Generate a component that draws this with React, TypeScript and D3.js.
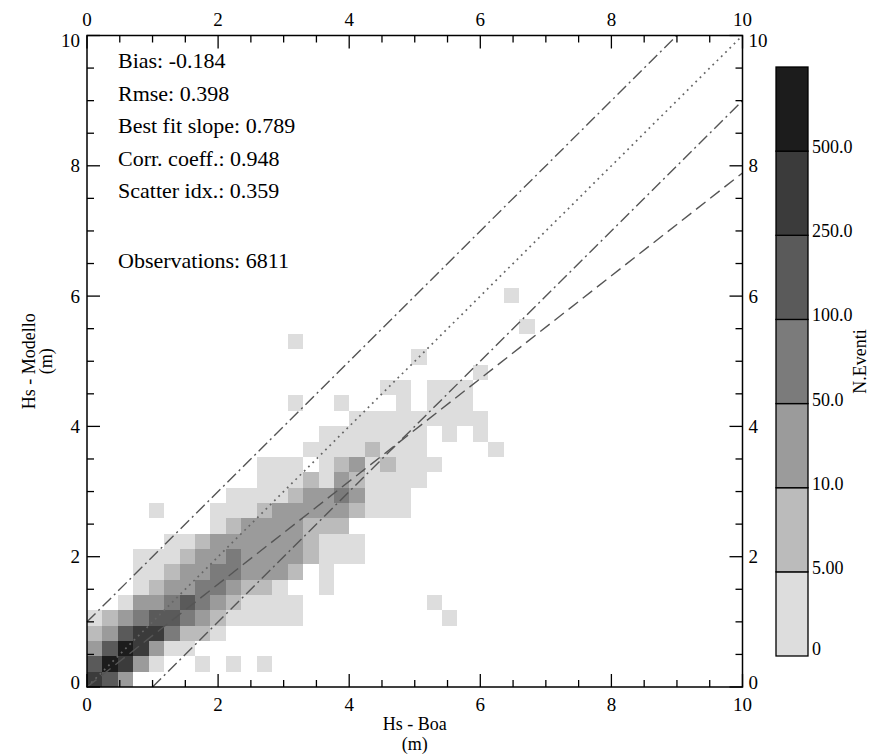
import React from 'react';
import * as d3 from 'd3';

// ---------- data ----------
const BIN_SIZE = 0.2355; // m, width/height of a histogram cell
// each row r of the 2D histogram: first column index and class codes ('.' = empty)
const ROW_START = [0, 0, 0, 0, 0, 2, 3, 3, 3, 5, 8, 4, 9, 11, 11, 14, 15, 17, 13, 19, 25, 21, 13, 28, 0, 27];
const ROW_LEVELS = [
  '653',
  '57631..1.1.1',
  '3576311',
  '235664221',
  '12345543211111.........1',
  '133454321111........1',
  '1233443221..1',
  '11233443332.1',
  '111233433332111',
  '1123333332111',
  '123333222',
  '1...1112333332111',
  '111123343111',
  '11121321111',
  '111.12312111',
  '11112111....1',
  '1111111.1.1',
  '111111111',
  '1..1...1.111',
  '11.111',
  '1',
  '1',
  '1',
  '1',
  '',
  '1',
];
const CLASS_COUNTS = [0, 2, 7, 25, 70, 160, 350, 700];
const COLOR_BREAKS = [5, 10, 50, 100, 250, 500];
const COLOR_FILLS = ['#dddddd', '#bbbbbb', '#9b9b9b', '#7b7b7b', '#5a5a5a', '#3b3b3b', '#1c1c1c'];
const CB_LABELS = ['0', '5.00', '10.0', '50.0', '100.0', '250.0', '500.0'];
const TICKS_MAJOR = [0, 2, 4, 6, 8, 10];
const TICKS_MINOR = d3.range(0, 10.01, 0.5).filter((v) => v % 2 !== 0);
const STAT_LABELS = [
  'Bias: -0.184',
  'Rmse: 0.398',
  'Best fit slope: 0.789',
  'Corr. coeff.: 0.948',
  'Scatter idx.: 0.359',
];
const OBS_LABEL = 'Observations: 6811';
const REF_LINES = [
  { x1: 0, y1: 1, x2: 9, y2: 10 },
  { x1: 0, y1: 0, x2: 10, y2: 10 },
  { x1: 1, y1: 0, x2: 10, y2: 9 },
  { x1: 0, y1: 0, x2: 10, y2: 7.89 },
];

const FONT = "'Liberation Serif', 'Times New Roman', serif";

export default function App() {
  const W = 895;
  const H = 754;
  const x = d3.scaleLinear().domain([0, 10]).range([87, 742.5]);
  const y = d3.scaleLinear().domain([0, 10]).range([687, 35.5]);
  const color = d3.scaleThreshold<number, string>().domain(COLOR_BREAKS).range(COLOR_FILLS);

  const cells: { c: number; r: number; count: number }[] = [];
  ROW_LEVELS.forEach((s, r) => {
    for (let i = 0; i < s.length; i++) {
      const ch = s[i];
      if (ch === '.') continue;
      cells.push({ c: ROW_START[r] + i, r, count: CLASS_COUNTS[+ch] });
    }
  });

  const lineStyles = [
    { dash: '12,4,2,4', stroke: '#555', w: 1.4 },
    { dash: '1.8,4.2', stroke: '#666', w: 1.7 },
    { dash: '12,4,2,4', stroke: '#555', w: 1.4 },
    { dash: '12,6', stroke: '#555', w: 1.4 },
  ];

  const cbY = d3.scaleLinear().domain([0, 7]).range([656, 67]);
  const [x0, x1] = x.range();
  const [y0, y1] = y.range();
  const MAJ = 13;
  const MIN = 7;

  const labelDy = (v: number) => (v === 0 ? -5 : v === 10 ? 5 : 0);

  return (
    <svg
      width={W}
      height={H}
      style={{ position: 'absolute', left: 0, top: 0, display: 'block', background: '#fff' }}
      fontFamily={FONT}
    >
      <rect x={0} y={0} width={W} height={H} fill="#fff" />
      {/* histogram cells */}
      <g shapeRendering="crispEdges">
        {cells.map((d, i) => (
          <rect
            key={i}
            x={x(d.c * BIN_SIZE)}
            y={y((d.r + 1) * BIN_SIZE)}
            width={x((d.c + 1) * BIN_SIZE) - x(d.c * BIN_SIZE)}
            height={y(d.r * BIN_SIZE) - y((d.r + 1) * BIN_SIZE)}
            fill={color(d.count)}
          />
        ))}
      </g>
      {/* reference lines */}
      {REF_LINES.map((l, i) => (
        <line
          key={i}
          x1={x(l.x1)}
          y1={y(l.y1)}
          x2={x(l.x2)}
          y2={y(l.y2)}
          stroke={lineStyles[i].stroke}
          strokeWidth={lineStyles[i].w}
          strokeDasharray={lineStyles[i].dash}
          strokeLinecap="butt"
        />
      ))}
      {/* frame */}
      <rect x={x0} y={y1} width={x1 - x0} height={y0 - y1} fill="none" stroke="#000" strokeWidth={1.5} />
      {/* ticks */}
      <g stroke="#000" strokeWidth={1.3}>
        {TICKS_MAJOR.concat(TICKS_MINOR).map((v, i) => {
          const L = TICKS_MAJOR.includes(v) ? MAJ : MIN;
          return (
            <g key={i}>
              <line x1={x(v)} x2={x(v)} y1={y0} y2={y0 - L} />
              <line x1={x(v)} x2={x(v)} y1={y1} y2={y1 + L} />
              <line x1={x0} x2={x0 + L} y1={y(v)} y2={y(v)} />
              <line x1={x1} x2={x1 - L} y1={y(v)} y2={y(v)} />
            </g>
          );
        })}
      </g>
      {/* tick labels */}
      <g fontSize={19} fill="#000">
        {TICKS_MAJOR.map((v) => (
          <g key={v}>
            <text x={x(v)} y={y0 + 24} textAnchor="middle">{v}</text>
            <text x={x(v)} y={y1 - 10} textAnchor="middle">{v}</text>
            <text x={x0 - 7} y={y(v) + 6.5 + labelDy(v)} textAnchor="end">{v}</text>
            <text x={x1 + 6} y={y(v) + 6.5 + labelDy(v)} textAnchor="start">{v}</text>
          </g>
        ))}
      </g>
      {/* axis titles */}
      <g fontSize={18} fill="#000" textAnchor="middle">
        <text x={(x0 + x1) / 2} y={730}>Hs - Boa</text>
        <text x={(x0 + x1) / 2} y={750}>(m)</text>
        <text transform={`translate(35,${(y0 + y1) / 2}) rotate(-90)`}>Hs - Modello</text>
        <text transform={`translate(52,${(y0 + y1) / 2}) rotate(-90)`}>(m)</text>
      </g>
      {/* statistics */}
      <g fontSize={22} fill="#000">
        {STAT_LABELS.map((s, i) => (
          <text key={i} x={118} y={68 + i * 32.5}>{s}</text>
        ))}
        <text x={118} y={268}>{OBS_LABEL}</text>
      </g>
      {/* colorbar */}
      <g>
        {COLOR_FILLS.map((f, i) => (
          <rect
            key={i}
            x={776}
            y={cbY(i + 1)}
            width={32}
            height={cbY(i) - cbY(i + 1)}
            fill={f}
            stroke="#000"
            strokeWidth={1.3}
          />
        ))}
        <g fontSize={18} fill="#000">
          {CB_LABELS.map((s, i) => (
            <text key={i} x={812} y={cbY(i) + (i === 0 ? -1 : 2)}>{s}</text>
          ))}
        </g>
        <text
          transform={`translate(866,${(cbY(0) + cbY(7)) / 2}) rotate(-90)`}
          textAnchor="middle"
          fontSize={18}
          fill="#000"
        >
          N.Eventi
        </text>
      </g>
    </svg>
  );
}
